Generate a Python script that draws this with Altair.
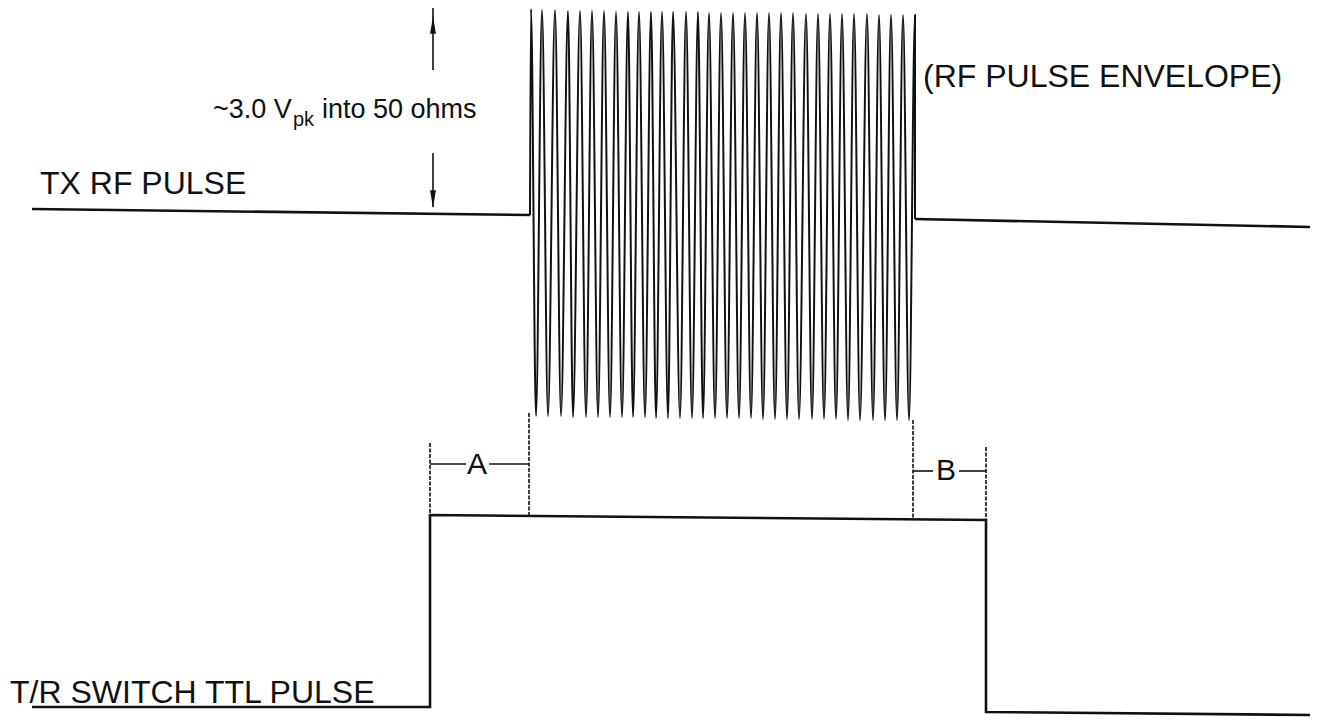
import altair as alt
import pandas as pd

# ---- data (image pixel coordinates) ----
rf_left_x = [32, 530]
rf_left_y = [209, 215]
rf_right_x = [915, 1312]
rf_right_y = [219, 227]

burst_peak_x = [531, 542, 555, 568, 580, 592, 604, 616, 628, 639, 651, 662, 673, 686, 698, 709, 721,
                733, 745, 757, 769, 781, 793, 806, 818, 830, 842, 854, 867, 879, 891, 903, 915]
burst_peak_y = [9, 10, 10, 11, 11, 11, 11, 12, 12, 12, 12, 12, 12, 12, 12, 13, 13,
                13, 13, 13, 13, 13, 13, 14, 14, 14, 14, 14, 14, 15, 15, 15, 15]
burst_trough_x = [536, 548, 561, 573, 586, 598, 610, 622, 633, 645, 656, 668, 680, 692, 703, 715,
                  727, 739, 751, 763, 775, 787, 799, 812, 824, 836, 848, 860, 873, 885, 897, 909]
burst_trough_y = [416, 416, 416, 417, 417, 417, 417, 417, 417, 417, 418, 418, 418, 418, 418, 418,
                  418, 418, 418, 419, 419, 419, 419, 419, 419, 419, 420, 420, 420, 420, 420, 420]

ttl_x = [32, 430, 430, 986, 986, 1312]
ttl_y = [707, 707, 515, 520, 712, 715]

arrow_x = [433, 433]
arrow_y1 = [7, 153]
arrow_y2 = [70, 207]
head_y = [25, 199]
head_dir = ["up", "down"]

ext_x = [430, 529, 913, 986]
ext_top = [443, 413, 420, 447]
ext_bot = [515, 515, 519, 520]

dim_x1 = [430, 489, 913, 959]
dim_x2 = [466, 529, 933, 986]
dim_y = [464, 464, 471, 471]
dim_label = ["A", "B"]
dim_label_x = [477, 946]
dim_label_y = [465, 471]

big_label = ["TX RF PULSE", "(RF PULSE ENVELOPE)", "T/R SWITCH TTL PULSE"]
big_label_x = [40, 923, 10]
big_label_y = [194, 87, 703]

amp_text = ["~3.0 V", "pk", "into 50 ohms"]
amp_x = [213, 293, 322]
amp_y = [118, 126, 118]
amp_size = [27, 20, 27]

# ---- tables ----
rows = []
for i, (x, y) in enumerate(zip(rf_left_x, rf_left_y)):
    rows.append(dict(s="rf_left", i=i, x=x, y=y))
for i, (x, y) in enumerate(zip(rf_right_x, rf_right_y)):
    rows.append(dict(s="rf_right", i=i, x=x, y=y))
for i, (x, y) in enumerate(zip(ttl_x, ttl_y)):
    rows.append(dict(s="ttl", i=i, x=x, y=y))
lines_df = pd.DataFrame(rows)

pts = [(rf_left_x[-1], rf_left_y[-1])]
for k in range(len(burst_peak_x)):
    pts.append((burst_peak_x[k], burst_peak_y[k]))
    if k < len(burst_trough_x):
        pts.append((burst_trough_x[k], burst_trough_y[k]))
pts.append((rf_right_x[0], rf_right_y[0]))
burst_df = pd.DataFrame([dict(i=i, x=x, y=y) for i, (x, y) in enumerate(pts)])

arrow_df = pd.DataFrame(dict(x=arrow_x, y=arrow_y1, y2=arrow_y2))
head_df = pd.DataFrame(dict(x=arrow_x, y=head_y, d=head_dir))
ext_df = pd.DataFrame(dict(x=ext_x, y=ext_top, y2=ext_bot))
dim_df = pd.DataFrame(dict(x=dim_x1, x2=dim_x2, y=dim_y))
dlab_df = pd.DataFrame(dict(x=dim_label_x, y=dim_label_y, t=dim_label))
big_df = pd.DataFrame(dict(x=big_label_x, y=big_label_y, t=big_label))
amp_df = pd.DataFrame(dict(x=amp_x, y=amp_y, t=amp_text, s=amp_size))

INK = "#111111"
FONT = "Liberation Sans"
X = alt.X("x:Q", scale=alt.Scale(domain=[8, 1310], nice=False, zero=False), axis=None)
Y = alt.Y("y:Q", scale=alt.Scale(domain=[8, 717], nice=False, zero=False, reverse=True), axis=None)

base_lines = alt.Chart(lines_df).mark_line(color=INK, strokeWidth=2.6).encode(
    x=X, y=Y, detail="s:N", order="i:Q")

burst = alt.Chart(burst_df).mark_line(color=INK, strokeWidth=2.0, interpolate="monotone").encode(
    x=X, y=Y, order="i:Q")

arrows = alt.Chart(arrow_df).mark_rule(color=INK, strokeWidth=1.6).encode(x=X, y=Y, y2="y2:Q")

head_up = alt.Chart(head_df[head_df.d == "up"]).mark_point(
    shape="M0,-1L0.34,1L-0.34,1Z", filled=True, size=300, color=INK, opacity=1, strokeWidth=0
).encode(x=X, y=Y)
head_down = alt.Chart(head_df[head_df.d == "down"]).mark_point(
    shape="M0,1L0.34,-1L-0.34,-1Z", filled=True, size=300, color=INK, opacity=1, strokeWidth=0
).encode(x=X, y=Y)

ext = alt.Chart(ext_df).mark_rule(color=INK, strokeWidth=1.6, strokeDash=[4, 1.5]).encode(
    x=X, y=Y, y2="y2:Q")

dims = alt.Chart(dim_df).mark_rule(color=INK, strokeWidth=1.6).encode(x=X, x2="x2:Q", y=Y)

dlab = alt.Chart(dlab_df).mark_text(font=FONT, fontSize=30, color=INK, align="center",
                                    baseline="middle").encode(x=X, y=Y, text="t:N")

big = alt.Chart(big_df).mark_text(font=FONT, fontSize=32, color=INK, align="left",
                                  baseline="alphabetic").encode(x=X, y=Y, text="t:N")

amp = alt.Chart(amp_df).mark_text(font=FONT, color=INK, align="left", baseline="alphabetic").encode(
    x=X, y=Y, text="t:N", size=alt.Size("s:Q", scale=None, legend=None))

chart = alt.layer(base_lines, burst, arrows, head_up, head_down, ext, dims, dlab, big, amp).properties(
    width=1302, height=709, padding=0, autosize="none", background="white"
).configure_view(stroke=None)

chart.save("out.html", embed_options={"renderer": "svg", "actions": False})
